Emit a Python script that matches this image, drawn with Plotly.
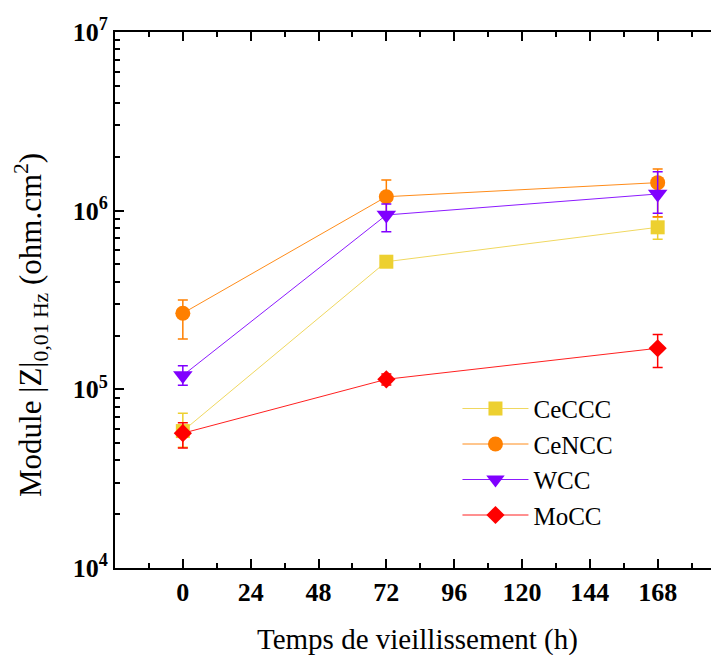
import plotly.graph_objects as go

hours = [0, 72, 168]

series_names = ["CeCCC", "CeNCC", "WCC", "MoCC"]

ceccc = [58400, 518000, 807000]
ceccc_err_plus = [15000, 30000, 111000]
ceccc_err_minus = [11000, 30000, 115000]

cencc = [266700, 1197000, 1435000]
cencc_err_plus = [49300, 286000, 275000]
cencc_err_minus = [75300, 250000, 510000]

wcc = [119600, 946000, 1240000]
wcc_err_plus = [16000, 143000, 412000]
wcc_err_minus = [14300, 184000, 274000]

mocc = [56800, 113800, 169800]
mocc_err_plus = [8200, 8000, 33200]
mocc_err_minus = [9800, 8000, 37100]

x_ticks = [0, 24, 48, 72, 96, 120, 144, 168]
y_tick_vals = [1e4, 1e5, 1e6, 1e7]
y_tick_text = ["<b>10<sup>4</sup></b>", "<b>10<sup>5</sup></b>",
               "<b>10<sup>6</sup></b>", "<b>10<sup>7</sup></b>"]
y_minor_vals = [k * 10 ** e for e in (4, 5, 6) for k in range(2, 10)]

FONT = "Liberation Serif"

styles = [
    dict(color="#EDD030", line="#F0D860", symbol="square", size=14),
    dict(color="#FF8000", line="#FF8C1A", symbol="circle", size=15),
    dict(color="#8000FF", line="#8C1AFF", symbol="triangle-down", size=17),
    dict(color="#FF0000", line="#FF2020", symbol="diamond", size=14),
]
values = [ceccc, cencc, wcc, mocc]
plus = [ceccc_err_plus, cencc_err_plus, wcc_err_plus, mocc_err_plus]
minus = [ceccc_err_minus, cencc_err_minus, wcc_err_minus, mocc_err_minus]

fig = go.Figure()
for name, vals, ep, em, st in zip(series_names, values, plus, minus, styles):
    fig.add_trace(go.Scatter(
        x=hours, y=vals, name=name, mode="lines+markers",
        line=dict(color=st["line"], width=1),
        marker=dict(color=st["color"], symbol=st["symbol"], size=st["size"],
                    line=dict(width=0)),
        error_y=dict(type="data", symmetric=False, array=ep, arrayminus=em,
                     color=st["color"], thickness=1.5, width=5),
    ))

fig.update_layout(
    width=711, height=647,
    margin=dict(l=107, r=0, t=24, b=87, autoexpand=False),
    paper_bgcolor="white", plot_bgcolor="white",
    font=dict(family=FONT, color="black"),
    showlegend=True,
    legend=dict(x=0.567, y=0.34, xanchor="left", yanchor="top",
                font=dict(family=FONT, size=25, color="black"),
                bgcolor="rgba(0,0,0,0)", itemwidth=66, tracegroupgap=0),
    xaxis=dict(
        range=[-24, 189.7], tickvals=x_ticks,
        ticktext=[f"<b>{t}</b>" for t in x_ticks],
        tickfont=dict(family=FONT, size=26, color="black"),
        ticks="inside", ticklen=9, tickwidth=1.5, tickcolor="black",
        minor=dict(ticks="inside", ticklen=5, tickwidth=1.5, dtick=12,
                   tick0=0, tickcolor="black", showgrid=False),
        showline=True, linewidth=2, linecolor="black", mirror="ticks",
        showgrid=False, zeroline=False, automargin=False,
    ),
    yaxis=dict(
        type="log", range=[4, 7], tickvals=y_tick_vals, ticktext=y_tick_text,
        tickfont=dict(family=FONT, size=26, color="black"),
        ticks="inside", ticklen=9, tickwidth=1.5, tickcolor="black",
        minor=dict(ticks="inside", ticklen=5, tickwidth=1.5,
                   tickvals=y_minor_vals, tickcolor="black", showgrid=False),
        showline=True, linewidth=2, linecolor="black", mirror=False,
        showgrid=False, zeroline=False, automargin=False,
    ),
    yaxis2=dict(
        type="log", range=[4, 7], overlaying="y", side="right",
        tickvals=y_tick_vals, showticklabels=False,
        ticks="inside", ticklen=9, tickwidth=1.5, tickcolor="black",
        minor=dict(ticks="inside", ticklen=5, tickwidth=1.5,
                   tickvals=y_minor_vals, tickcolor="black", showgrid=False),
        showline=False, showgrid=False, zeroline=False, automargin=False,
    ),
)

fig.add_annotation(
    text="Module |Z|<sub>0,01 Hz</sub> (ohm.cm<sup>2</sup>)",
    xref="paper", yref="paper", x=0, y=0.5, xanchor="center", yanchor="middle",
    xshift=-84, yshift=-25, textangle=-90, showarrow=False,
    font=dict(family=FONT, size=31, color="black"),
)
fig.add_annotation(
    text="Temps de vieillissement (h)",
    xref="paper", yref="paper", x=0.5, y=0, xanchor="center", yanchor="middle",
    yshift=-71, showarrow=False,
    font=dict(family=FONT, size=29, color="black"),
)

fig.write_html("out.html")
